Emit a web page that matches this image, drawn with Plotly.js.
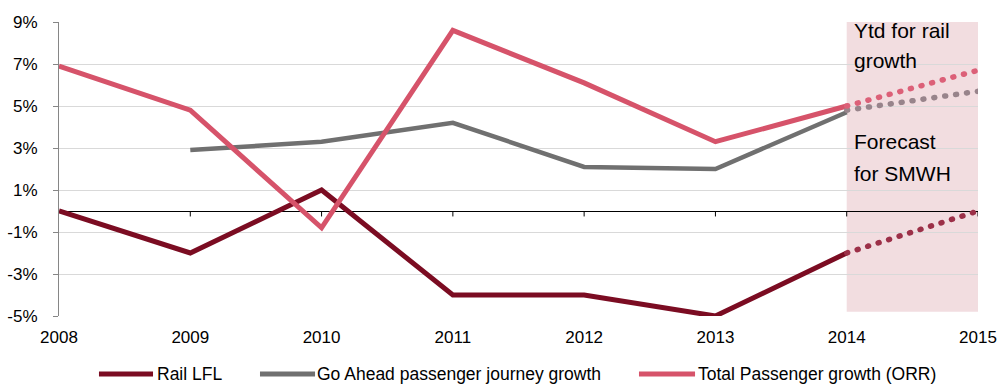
<!DOCTYPE html>
<html>
<head>
<meta charset="utf-8">
<script src="https://cdn.plot.ly/plotly-3.0.1.min.js"></script>
<style>html,body{margin:0;padding:0;background:#fff;}#chart{width:1005px;height:385px;}</style>
</head>
<body>
<div id="chart"></div>
<script>
// Data
const years = [2008, 2009, 2010, 2011, 2012, 2013, 2014];
const railLFL = [0, -2, 1, -4, -4, -5, -2];
const goAhead = [null, 2.9, 3.3, 4.2, 2.1, 2.0, 4.7];
const totalPassenger = [6.9, 4.8, -0.8, 8.6, 6.1, 3.3, 5.0];

const forecastYears = [2014, 2015];
const railForecast = [-2, 0];
const goAheadForecast = [4.8, 5.7];
const totalForecast = [5.0, 6.7];

const seriesNames = ['Rail LFL', 'Go Ahead passenger journey growth', 'Total Passenger growth (ORR)'];
const yTicks = [-5, -3, -1, 1, 3, 5, 7, 9];
const yTickLabels = ['-5%', '-3%', '-1%', '1%', '3%', '5%', '7%', '9%'];
const xTicks = [2008, 2009, 2010, 2011, 2012, 2013, 2014, 2015];

const C_RAIL = '#7b0c22';
const C_GO = '#707070';
const C_TOTAL = '#d6536a';
const FONT = 'Liberation Sans, Arial, sans-serif';

const dotLine = function (color) { return {color: color, width: 5.5, dash: '1px,10px'}; };

const traces = [
  {x: years, y: railLFL, name: seriesNames[0], mode: 'lines', line: {color: C_RAIL, width: 5}, cliponaxis: false},
  {x: years, y: goAhead, name: seriesNames[1], mode: 'lines', line: {color: C_GO, width: 4.5}, cliponaxis: false},
  {x: years, y: totalPassenger, name: seriesNames[2], mode: 'lines', line: {color: C_TOTAL, width: 5}, cliponaxis: false},
  {x: forecastYears, y: railForecast, mode: 'lines', line: dotLine('#9c3048'), cliponaxis: false},
  {x: forecastYears, y: goAheadForecast, mode: 'lines', line: dotLine('#98848b'), cliponaxis: false},
  {x: forecastYears, y: totalForecast, mode: 'lines', line: dotLine('#dc6078'), cliponaxis: false}
];

const shapes = [
  {type: 'rect', xref: 'x', yref: 'y', x0: 2014, x1: 2015, y0: -4.8, y1: 9, fillcolor: '#f2dde0', line: {width: 0}, layer: 'below'}
];
xTicks.slice(1).forEach(function (yr) {
  shapes.push({type: 'line', xref: 'x', yref: 'y', x0: yr, x1: yr, y0: 0, y1: -0.26, line: {color: '#000', width: 1}, layer: 'above'});
});

const annFont = {family: FONT, size: 21, color: '#000'};
const annotations = [
  {text: 'Ytd for rail', y: 8.6},
  {text: 'growth', y: 7.17},
  {text: 'Forecast', y: 3.31},
  {text: 'for SMWH', y: 1.79}
].map(function (a) {
  return {text: a.text, x: 2014, xref: 'x', y: a.y, yref: 'y', xanchor: 'left', yanchor: 'middle', xshift: 5, showarrow: false, font: annFont};
});

// Custom legend (paper coordinates relative to plot area)
const legendY = -0.197;
const legendItems = [
  {color: C_RAIL, x0: 0.0435, x1: 0.1023, tx: 0.1066},
  {color: C_GO, x0: 0.2187, x1: 0.2786, tx: 0.2807},
  {color: C_TOTAL, x0: 0.6311, x1: 0.6921, tx: 0.6953}
];
legendItems.forEach(function (it, i) {
  shapes.push({type: 'line', xref: 'paper', yref: 'paper', x0: it.x0, x1: it.x1, y0: legendY, y1: legendY, line: {color: it.color, width: 5}});
  annotations.push({text: seriesNames[i], xref: 'paper', yref: 'paper', x: it.tx, y: legendY, xanchor: 'left', yanchor: 'middle', xshift: -2, showarrow: false, font: {family: FONT, size: 17.5, color: '#000'}});
});

const layout = {
  width: 1005,
  height: 385,
  margin: {l: 59, r: 27, t: 22, b: 69},
  paper_bgcolor: '#fff',
  plot_bgcolor: '#fff',
  font: {family: FONT, size: 17, color: '#000'},
  showlegend: false,
  xaxis: {
    range: [2008, 2015],
    tickvals: xTicks,
    ticktext: xTicks.map(String),
    showgrid: false,
    zeroline: false,
    showline: false,
    ticks: '',
    ticklabelstandoff: 9,
    tickfont: {size: 17}
  },
  yaxis: {
    range: [-5, 9],
    tickvals: yTicks,
    ticktext: yTickLabels,
    showgrid: true,
    gridcolor: '#d9d9d9',
    gridwidth: 1,
    zeroline: true,
    zerolinecolor: '#000',
    zerolinewidth: 1,
    showline: true,
    linecolor: '#868686',
    linewidth: 1,
    ticks: 'outside',
    ticklen: 5,
    tickcolor: '#868686',
    ticklabelstandoff: 12,
    tickfont: {size: 17}
  },
  shapes: shapes,
  annotations: annotations
};

Plotly.newPlot('chart', traces, layout, {staticPlot: true, displayModeBar: false}).then(function (gd) {
  const tr = gd.querySelectorAll('.scatterlayer .trace');
  for (let i = 3; i < tr.length; i++) {
    tr[i].querySelectorAll('path.js-line').forEach(function (p) { p.style.strokeLinecap = 'round'; });
  }
});
</script>
</body>
</html>
